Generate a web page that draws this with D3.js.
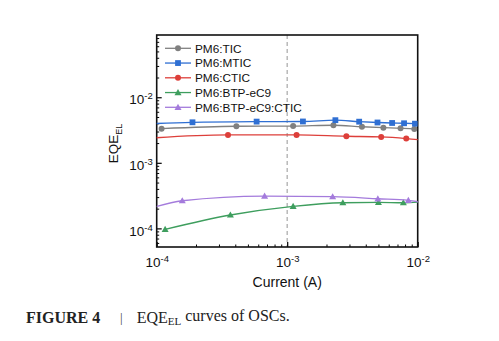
<!DOCTYPE html>
<html>
<head>
<meta charset="utf-8">
<script src="https://cdn.jsdelivr.net/npm/d3@7"></script>
<style>
  html, body { margin: 0; padding: 0; background: #fff; }
  svg { display: block; }
</style>
</head>
<body>
<svg id="chart" width="499" height="341"></svg>
<script>
// EQE_EL versus injection current, five blends
const seriesNames = ["PM6:TIC", "PM6:MTIC", "PM6:CTIC", "PM6:BTP-eC9", "PM6:BTP-eC9:CTIC"];
const seriesColors = ["#808080", "#2f6fd3", "#dd3f3a", "#3e9e5e", "#a47bdc"];
const seriesMarkers = ["circle", "square", "circle", "triangle", "triangle"];

// [current (A), EQE_EL]
const ticData = [[1.09e-4, 3.32e-3], [4.08e-4, 3.61e-3], [1.11e-3, 3.63e-3], [2.26e-3, 3.74e-3],
                 [3.74e-3, 3.55e-3], [5.46e-3, 3.44e-3], [7.39e-3, 3.37e-3], [9.42e-3, 3.27e-3]];
const mticData = [[5.0e-5, 3.75e-3], [1.88e-4, 4.15e-3], [5.83e-4, 4.25e-3], [1.32e-3, 4.27e-3],
                  [2.34e-3, 4.47e-3], [3.56e-3, 4.24e-3], [4.92e-3, 4.12e-3], [6.37e-3, 4.05e-3],
                  [7.86e-3, 4.01e-3], [9.53e-3, 3.95e-3]];
const cticData = [[5.0e-5, 2.2e-3], [3.52e-4, 2.66e-3], [1.18e-3, 2.66e-3], [2.84e-3, 2.54e-3],
                  [5.25e-3, 2.48e-3], [8.17e-3, 2.34e-3], [1.2e-2, 2.17e-3]];
const btpData = [[1.16e-4, 9.66e-5], [3.67e-4, 1.60e-4], [1.11e-3, 2.17e-4], [2.67e-3, 2.46e-4],
                 [5.0e-3, 2.49e-4], [7.76e-3, 2.46e-4], [1.05e-2, 2.52e-4]];
const btpCticData = [[9.0e-5, 2.03e-4], [1.57e-4, 2.64e-4], [6.71e-4, 3.11e-4], [2.23e-3, 3.04e-4],
                     [4.95e-3, 2.83e-4], [8.48e-3, 2.68e-4], [1.1e-2, 2.47e-4]];
const seriesData = [ticData, mticData, cticData, btpData, btpCticData];

const xDomain = [1e-4, 1e-2];
const yDomain = [5.2e-5, 0.089];
const xMajorTicks = [1e-4, 1e-3, 1e-2];
const yMajorTicks = [1e-4, 1e-3, 1e-2];
const xTickExponents = ["-4", "-3", "-2"];
const yTickExponents = ["-4", "-3", "-2"];
const guideCurrent = 1e-3;

const svg = d3.select("#chart");
const plotLeft = 156.7, plotRight = 417.7, plotTop = 35, plotBottom = 247;

const x = d3.scaleLog().domain(xDomain).range([plotLeft, plotRight]);
const y = d3.scaleLog().domain(yDomain).range([plotBottom, plotTop]);

function minorTicks(domain) {
  const out = [];
  const lo = Math.floor(Math.log10(domain[0])), hi = Math.ceil(Math.log10(domain[1]));
  for (let e = lo; e < hi; e++) {
    for (let m = 2; m <= 9; m++) {
      const v = m * Math.pow(10, e);
      if (v >= domain[0] && v <= domain[1]) out.push(v);
    }
  }
  return out;
}

const axisFont = "Liberation Sans, Arial, sans-serif";

// power-of-ten label: "10" with a raised exponent
function powerLabel(t, exponent) {
  t.text(null).attr("font-family", axisFont).attr("font-size", 13.5).attr("fill", "#111");
  t.append("tspan").text("10");
  t.append("tspan").text(exponent).attr("font-size", 9.5).attr("dy", -5);
}

// clip region for the curves
svg.append("defs").append("clipPath").attr("id", "plotClip")
  .append("rect").attr("x", plotLeft).attr("y", plotTop)
  .attr("width", plotRight - plotLeft).attr("height", plotBottom - plotTop);

// dashed guide at 1 mA
svg.append("line")
  .attr("x1", x(guideCurrent)).attr("x2", x(guideCurrent))
  .attr("y1", plotTop).attr("y2", plotBottom)
  .attr("stroke", "#b4b4b4").attr("stroke-width", 1.4)
  .attr("stroke-dasharray", "4,3");

// x axis (ticks inside)
const xAxisG = svg.append("g").attr("transform", `translate(0,${plotBottom})`);
xAxisG.append("g")
  .call(d3.axisBottom(x).tickValues(minorTicks(xDomain)).tickSize(-2.5).tickFormat(""))
  .call(g => g.select(".domain").remove());
xAxisG.append("g")
  .call(d3.axisBottom(x).tickValues(xMajorTicks).tickSize(-5))
  .call(g => g.select(".domain").remove())
  .call(g => g.selectAll(".tick line").attr("stroke-width", 1.2))
  .call(g => g.selectAll("text").each(function(d, i) {
    const t = d3.select(this).attr("y", 19.7).attr("dy", 0);
    powerLabel(t, xTickExponents[i]);
  }));

// y axis (ticks inside)
const yAxisG = svg.append("g").attr("transform", `translate(${plotLeft},0)`);
yAxisG.append("g")
  .call(d3.axisLeft(y).tickValues(minorTicks(yDomain)).tickSize(-2.5).tickFormat(""))
  .call(g => g.select(".domain").remove());
yAxisG.append("g")
  .call(d3.axisLeft(y).tickValues(yMajorTicks).tickSize(-5).tickPadding(4))
  .call(g => g.select(".domain").remove())
  .call(g => g.selectAll(".tick line").attr("stroke-width", 1.2))
  .call(g => g.selectAll("text").each(function(d, i) {
    const t = d3.select(this).attr("dy", "0.5em");
    powerLabel(t, yTickExponents[i]);
  }));

// frame
svg.append("rect")
  .attr("x", plotLeft).attr("y", plotTop)
  .attr("width", plotRight - plotLeft).attr("height", plotBottom - plotTop)
  .attr("fill", "none").attr("stroke", "#111").attr("stroke-width", 1.6);

// markers
function drawMarker(g, type, cx, cy, color) {
  if (type === "circle") {
    g.append("circle").attr("cx", cx).attr("cy", cy).attr("r", 3).attr("fill", color);
  } else if (type === "square") {
    g.append("rect").attr("x", cx - 2.9).attr("y", cy - 2.9)
      .attr("width", 5.8).attr("height", 5.8).attr("fill", color);
  } else {
    const s = 3.5;
    g.append("path")
      .attr("d", `M${cx},${cy - s}L${cx + s},${cy + s * 0.75}L${cx - s},${cy + s * 0.75}Z`)
      .attr("fill", color);
  }
}

const line = d3.line()
  .x(d => x(d[0])).y(d => y(d[1]))
  .curve(d3.curveMonotoneX);

const plot = svg.append("g").attr("clip-path", "url(#plotClip)");
seriesData.forEach((data, i) => {
  const g = plot.append("g");
  g.append("path").datum(data)
    .attr("d", line)
    .attr("fill", "none")
    .attr("stroke", seriesColors[i])
    .attr("stroke-width", 1.3);
  data.forEach(d => {
    if (d[0] >= xDomain[0] && d[0] <= xDomain[1]) {
      drawMarker(g, seriesMarkers[i], x(d[0]), y(d[1]), seriesColors[i]);
    }
  });
});

// legend
const legend = svg.append("g");
const legX = 165, legY = 48.3, legStep = 14.75;
seriesNames.forEach((name, i) => {
  const cy = legY + i * legStep;
  legend.append("line")
    .attr("x1", legX).attr("x2", legX + 26)
    .attr("y1", cy).attr("y2", cy)
    .attr("stroke", seriesColors[i]).attr("stroke-width", 1.3);
  drawMarker(legend, seriesMarkers[i], legX + 13, cy, seriesColors[i]);
  legend.append("text")
    .attr("x", legX + 30).attr("y", cy).attr("dy", "0.36em")
    .attr("font-family", axisFont).attr("font-size", 11.8).attr("fill", "#111")
    .text(name);
});

// axis titles
const yTitle = svg.append("text")
  .attr("transform", "translate(117.5,143.5) rotate(-90)")
  .attr("text-anchor", "middle")
  .attr("font-family", axisFont).attr("font-size", 13.5).attr("fill", "#111");
yTitle.append("tspan").text("EQE");
yTitle.append("tspan").text("EL").attr("font-size", 9).attr("dy", 4.5);

svg.append("text")
  .attr("x", (plotLeft + plotRight) / 2).attr("y", 287.3)
  .attr("text-anchor", "middle")
  .attr("font-family", axisFont).attr("font-size", 14).attr("fill", "#111")
  .text("Current (A)");

// figure caption
const serif = "Liberation Serif, Times New Roman, serif";
const cap = svg.append("text")
  .attr("x", 26).attr("y", 322.5)
  .attr("font-family", serif).attr("font-size", 16).attr("fill", "#222");
cap.append("tspan").text("FIGURE 4").attr("font-weight", "bold");
svg.append("text")
  .attr("x", 120).attr("y", 321.5)
  .attr("font-family", serif).attr("font-size", 13).attr("fill", "#444")
  .text("|");
const capText = svg.append("text")
  .attr("x", 136.7).attr("y", 322.5)
  .attr("font-family", serif).attr("font-size", 16).attr("fill", "#222");
capText.append("tspan").text("EQE");
capText.append("tspan").text("EL").attr("font-size", 11).attr("dy", "0.25em");
capText.append("tspan").text(" curves of OSCs.").attr("dy", "-0.25em");
</script>
</body>
</html>
